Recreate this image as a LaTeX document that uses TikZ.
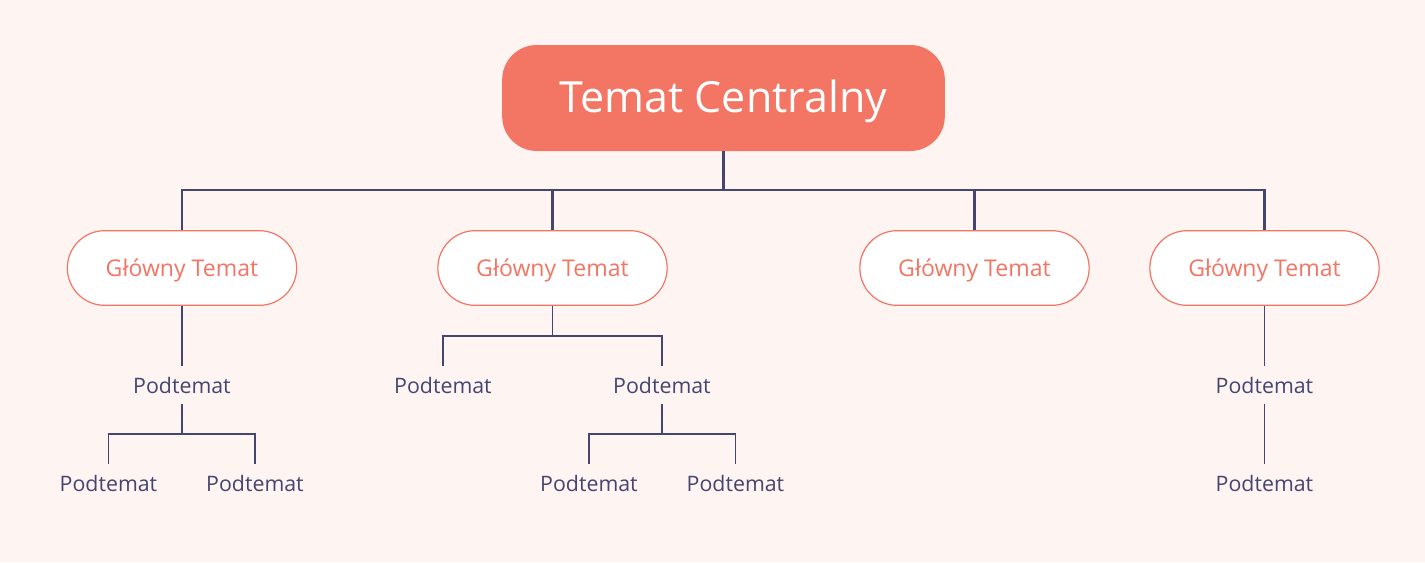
\documentclass[tikz,border=0pt]{standalone}
\usepackage{fontspec}
\setmainfont{Open Sans}
\usepackage{xcolor}
\definecolor{salmon}{HTML}{F37563}
\definecolor{navy}{HTML}{45456F}
\definecolor{paper}{HTML}{FEF5F3}

\begin{document}
\begin{tikzpicture}[x=0.75pt,y=0.75pt,
  centre/.style={rectangle,rounded corners=26pt,fill=salmon,text=white,
    minimum width=332pt,minimum height=79.5pt,inner sep=0pt,text depth=2pt,
    font=\fontsize{32.2}{36}\selectfont},
  main/.style={rectangle,rounded corners=28pt,draw=salmon,line width=0.9pt,fill=white,
    text=salmon,minimum width=172pt,minimum height=56pt,inner sep=0pt,text depth=1pt,
    font=\fontsize{17.3}{20}\selectfont},
  sub/.style={text=navy,minimum height=28.5pt,inner sep=0pt,font=\fontsize{16}{19}\selectfont},
  bus/.style={draw=navy,line width=2.2pt},
  twig/.style={draw=navy,line width=1.1pt}]
  \fill[paper] (0,0) rectangle (1425,-562);
  \useasboundingbox (0,0) rectangle (1425,-562);
  \node[centre] (ctr) at (723.5,-98){Temat Centralny};
  \node[main] (m1) at (182,-268){Główny Temat};
  \node[main] (m2) at (552.5,-268){Główny Temat};
  \node[main] (m3) at (974.5,-268){Główny Temat};
  \node[main] (m4) at (1264.5,-268){Główny Temat};
  \coordinate (hub) at (723.5,-190);
  \foreach \m in {m1,m2,m3,m4}
    \draw[bus] (ctr.south) -- (hub) -| (\m.north);
  \node[sub] (s1) at (182,-385){Podtemat};
  \node[sub] (s11) at (108.5,-483){Podtemat};
  \node[sub] (s12) at (255,-483){Podtemat};
  \node[sub] (s2) at (443,-385){Podtemat};
  \node[sub] (s3) at (662,-385){Podtemat};
  \node[sub] (s31) at (589,-483){Podtemat};
  \node[sub] (s32) at (735.5,-483){Podtemat};
  \node[sub] (s4) at (1264.5,-385){Podtemat};
  \node[sub] (s41) at (1264.5,-483){Podtemat};
  \coordinate (j1) at (182,-434);
  \coordinate (j2) at (552.5,-336);
  \coordinate (j3) at (662,-434);
  \draw[twig] (m1.south) -- (s1.north);
  \draw[twig] (s1.south) -- (j1) -| (s11.north);
  \draw[twig] (j1) -| (s12.north);
  \draw[twig] (m2.south) -- (j2) -| (s2.north);
  \draw[twig] (j2) -| (s3.north);
  \draw[twig] (s3.south) -- (j3) -| (s31.north);
  \draw[twig] (j3) -| (s32.north);
  \draw[twig] (m4.south) -- (s4.north);
  \draw[twig] (s4.south) -- (s41.north);
\end{tikzpicture}
\end{document}
